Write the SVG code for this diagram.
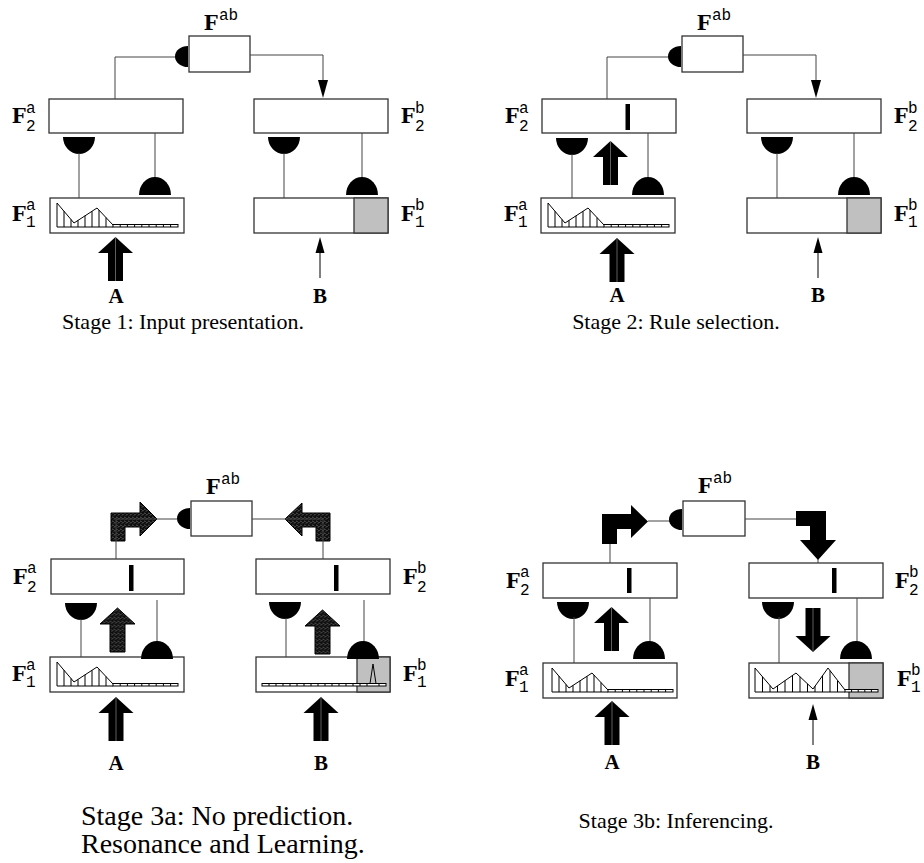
<svg xmlns="http://www.w3.org/2000/svg" width="924" height="863" viewBox="0 0 924 863">
<style>
.box{fill:#fff;stroke:#333;stroke-width:1.3}
.gray{fill:#c0c0c0;stroke:#333;stroke-width:1.3}
.ln{stroke:#444;stroke-width:1;fill:none}
.blk{fill:#000;stroke:none}
.hat{fill:url(#hatch);stroke:#000;stroke-width:1}
.F{font-family:"Liberation Serif",serif;font-weight:bold;font-size:24px}
.sup{font-family:"Liberation Mono",monospace;font-size:16px}
.lab{font-family:"Liberation Serif",serif;font-weight:bold;font-size:21px;text-anchor:middle}
.cap{font-family:"Liberation Serif",serif;font-size:22px}
.cap2{font-family:"Liberation Serif",serif;font-size:28px}
.hist{fill:none;stroke:#000;stroke-width:1}
</style>
<defs>
<pattern id="hatch" width="4" height="4" patternUnits="userSpaceOnUse">
<rect width="4" height="4" fill="#0f0f0f"/>
<path d="M0,0.5 L1.5,2 M2,3.5 L3.5,2" stroke="#b0b0b0" stroke-width="0.6"/>
</pattern>
<path id="domeDown" d="M-16,0 A16,17 0 0 0 16,0 Z"/>
<path id="domeUp" d="M-16,0 A16,18 0 0 1 16,0 Z"/>
<path id="sideCap" d="M0,-10.5 A13,10.5 0 0 0 0,10.5 Z"/>
<path id="bigUp" d="M0,0 L17.5,16 L7.5,16 L7.5,44 L-7.5,44 L-7.5,16 L-17.5,16 Z"/>
<g id="thinUp"><path d="M0,0 L4.5,16 L-4.5,16 Z" fill="#000"/><line x1="0" y1="15" x2="0" y2="41" stroke="#000" stroke-width="1"/></g>
<g id="histA" class="hist">
<path d="M7,5 L24,25 L47,10 L63,27 M7,5 V29 M14,13.2 V29 M21,21.5 V29 M28,22.4 V29 M35,17.8 V29 M42,13.3 V29 M49,12.1 V29 M56,19.6 V29 M7,29 H63"/>
<rect x="63" y="26.5" width="65" height="2.5" fill="#fff"/>
<path d="M70.2,26.5 V29 M77.4,26.5 V29 M84.6,26.5 V29 M91.8,26.5 V29 M99,26.5 V29 M106.2,26.5 V29 M113.4,26.5 V29 M120.6,26.5 V29"/>
</g>
</defs>
<rect width="924" height="863" fill="#fff"/>

<!-- ================= Stage 1 ================= -->
<g id="s1-Fab"><rect class="box" x="189" y="36" width="61" height="36"/><text class="F" x="204" y="30">F</text><text class="sup" x="219" y="20">ab</text></g>
<g id="s1-F2a"><rect class="box" x="49" y="99" width="134" height="34"/><text class="F" x="12" y="123">F</text><text class="sup" x="26" y="113">a</text><text class="sup" x="26" y="131">2</text></g>
<g id="s1-F2b"><rect class="box" x="254" y="99" width="134" height="34"/><text class="F" x="401" y="123">F</text><text class="sup" x="415" y="113">b</text><text class="sup" x="415" y="131">2</text></g>
<g id="s1-F1a"><rect class="box" x="50" y="198" width="134" height="35"/><use href="#histA" x="50" y="198"/><text class="F" x="12" y="221">F</text><text class="sup" x="26" y="210">a</text><text class="sup" x="26" y="227">1</text></g>
<g id="s1-F1b"><rect class="box" x="254" y="198" width="134" height="35"/><rect class="gray" x="354" y="198" width="34" height="35"/><text class="F" x="401" y="221">F</text><text class="sup" x="415" y="210">b</text><text class="sup" x="415" y="227">1</text></g>
<g id="s1-A"><text class="lab" x="116" y="303">A</text></g>
<g id="s1-B"><text class="lab" x="320" y="303">B</text></g>
<g id="s1-connectors">
<path class="ln" d="M115,99 V57 H176"/><use href="#sideCap" x="188" y="56.5"/>
<path class="ln" d="M250,55 H323 V82"/><path class="blk" d="M323,98 L318,80 L328,80 Z"/>
<use href="#domeDown" x="79" y="137"/><line class="ln" x1="79" y1="153" x2="79" y2="198"/>
<line class="ln" x1="155" y1="133" x2="155" y2="178"/><use href="#domeUp" x="155" y="195"/>
<use href="#domeDown" x="284" y="137"/><line class="ln" x1="284" y1="153" x2="284" y2="198"/>
<line class="ln" x1="362" y1="133" x2="362" y2="178"/><use href="#domeUp" x="362" y="195"/>
<use href="#bigUp" x="115.5" y="237"/><line x1="115.5" y1="237" x2="115.5" y2="281" stroke="#777" stroke-width="0.8"/>
<use href="#thinUp" x="320" y="237"/>
</g>
<text class="cap" x="183" y="329" text-anchor="middle">Stage 1: Input presentation.</text>

<!-- ================= Stage 2 ================= -->
<g id="s2-Fab"><rect class="box" x="682" y="36" width="61" height="36"/><text class="F" x="697" y="30">F</text><text class="sup" x="712" y="20">ab</text></g>
<g id="s2-F2a"><rect class="box" x="542" y="99" width="134" height="34"/><rect class="blk" x="625.5" y="104" width="4.5" height="26"/><text class="F" x="505" y="123">F</text><text class="sup" x="519" y="113">a</text><text class="sup" x="519" y="131">2</text></g>
<g id="s2-F2b"><rect class="box" x="747" y="99" width="134" height="34"/><text class="F" x="894" y="123">F</text><text class="sup" x="908" y="113">b</text><text class="sup" x="908" y="131">2</text></g>
<g id="s2-F1a"><rect class="box" x="541" y="198" width="134" height="35"/><use href="#histA" x="541" y="198"/><text class="F" x="504" y="221">F</text><text class="sup" x="518" y="210">a</text><text class="sup" x="518" y="227">1</text></g>
<g id="s2-F1b"><rect class="box" x="747" y="198" width="134" height="35"/><rect class="gray" x="847" y="198" width="34" height="35"/><text class="F" x="894" y="221">F</text><text class="sup" x="908" y="210">b</text><text class="sup" x="908" y="227">1</text></g>
<g id="s2-A"><text class="lab" x="617" y="302">A</text></g>
<g id="s2-B"><text class="lab" x="818" y="302">B</text></g>
<g id="s2-connectors">
<path class="ln" d="M607,99 V57 H669"/><use href="#sideCap" x="681" y="56.5"/>
<path class="ln" d="M743,55 H816 V82"/><path class="blk" d="M816,98 L811,80 L821,80 Z"/>
<use href="#domeDown" x="572" y="138"/><line class="ln" x1="572" y1="154" x2="572" y2="198"/>
<use href="#bigUp" x="610.5" y="141"/><line x1="610.5" y1="141" x2="610.5" y2="185" stroke="#777" stroke-width="0.8"/>
<line class="ln" x1="648" y1="133" x2="648" y2="178"/><use href="#domeUp" x="648" y="195"/>
<use href="#domeDown" x="777" y="137"/><line class="ln" x1="777" y1="153" x2="777" y2="198"/>
<line class="ln" x1="854" y1="133" x2="854" y2="178"/><use href="#domeUp" x="854" y="195"/>
<use href="#bigUp" x="617" y="238"/><line x1="617" y1="238" x2="617" y2="282" stroke="#777" stroke-width="0.8"/>
<use href="#thinUp" x="818" y="237"/>
</g>
<text class="cap" x="676" y="329" text-anchor="middle">Stage 2: Rule selection.</text>

<!-- ================= Stage 3a ================= -->
<g id="s3a-Fab"><rect class="box" x="191" y="501" width="61" height="35"/><text class="F" x="206" y="494">F</text><text class="sup" x="221" y="484">ab</text></g>
<g id="s3a-F2a"><rect class="box" x="51" y="559" width="133" height="35"/><rect class="blk" x="129" y="565" width="4.5" height="26"/><text class="F" x="13" y="584">F</text><text class="sup" x="27" y="573">a</text><text class="sup" x="27" y="592">2</text></g>
<g id="s3a-F2b"><rect class="box" x="256" y="559" width="134" height="35"/><rect class="blk" x="334" y="565" width="4.5" height="26"/><text class="F" x="403" y="584">F</text><text class="sup" x="417" y="573">b</text><text class="sup" x="417" y="592">2</text></g>
<g id="s3a-F1a"><rect class="box" x="50" y="657" width="134" height="35"/><use href="#histA" x="50" y="657"/><text class="F" x="12" y="681">F</text><text class="sup" x="26" y="670">a</text><text class="sup" x="26" y="687">1</text></g>
<g id="s3a-F1b"><rect class="box" x="256" y="657" width="134" height="35"/><rect class="gray" x="357" y="657" width="33" height="35"/>
<g class="hist"><rect x="262" y="683.5" width="124" height="2.5" fill="#fff"/><path d="M269,683.5 V686 M276,683.5 V686 M283,683.5 V686 M290,683.5 V686 M297,683.5 V686 M304,683.5 V686 M311,683.5 V686 M318,683.5 V686 M325,683.5 V686 M332,683.5 V686 M339,683.5 V686 M346,683.5 V686 M353,683.5 V686 M360,683.5 V686 M367,683.5 V686 M379,683.5 V686 M370,683.5 L373,664 L376,683.5"/></g>
<text class="F" x="403" y="681">F</text><text class="sup" x="417" y="670">b</text><text class="sup" x="417" y="687">1</text></g>
<g id="s3a-A"><text class="lab" x="116" y="770">A</text></g>
<g id="s3a-B"><text class="lab" x="321" y="770">B</text></g>
<g id="s3a-connectors">
<path class="hat" d="M111,541 L111,513 L140,513 L140,502 L157,519 L140,536 L140,527 L125,527 L125,541 Z"/>
<path class="ln" d="M116,559 V519 H177"/><use href="#sideCap" x="190" y="518.5"/>
<path class="hat" d="M330,541 L330,513 L302,513 L302,503 L285,519 L302,536 L302,527 L316,527 L316,541 Z"/>
<path class="ln" d="M252,519 H323 V559"/>
<use href="#domeDown" x="81" y="603"/><line class="ln" x1="81" y1="619" x2="81" y2="657"/>
<use class="hat" href="#bigUp" x="117.5" y="608"/>
<line class="ln" x1="157" y1="600" x2="157" y2="643"/><use href="#domeUp" x="157" y="659"/>
<use href="#domeDown" x="285" y="602"/><line class="ln" x1="286" y1="618" x2="286" y2="657"/>
<use class="hat" href="#bigUp" x="322.5" y="610"/>
<line class="ln" x1="364" y1="600" x2="364" y2="643"/><use href="#domeUp" x="363" y="659"/>
<use href="#bigUp" x="116" y="697"/><line x1="116" y1="697" x2="116" y2="741" stroke="#777" stroke-width="0.8"/>
<use href="#bigUp" x="321" y="697"/><line x1="321" y1="697" x2="321" y2="741" stroke="#777" stroke-width="0.8"/>
</g>
<text class="cap2" x="81" y="825">Stage 3a: No prediction.</text>
<text class="cap2" x="81" y="853">Resonance and Learning.</text>

<!-- ================= Stage 3b ================= -->
<g id="s3b-Fab"><rect class="box" x="683" y="501" width="62" height="35"/><text class="F" x="698" y="493">F</text><text class="sup" x="713" y="483">ab</text></g>
<g id="s3b-F2a"><rect class="box" x="543" y="563" width="134" height="35"/><rect class="blk" x="627" y="568" width="4.5" height="25"/><text class="F" x="506" y="588">F</text><text class="sup" x="520" y="577">a</text><text class="sup" x="520" y="595">2</text></g>
<g id="s3b-F2b"><rect class="box" x="749" y="563" width="134" height="35"/><rect class="blk" x="832" y="568" width="4.5" height="25"/><text class="F" x="895" y="588">F</text><text class="sup" x="909" y="577">b</text><text class="sup" x="909" y="595">2</text></g>
<g id="s3b-F1a"><rect class="box" x="543" y="663" width="134" height="35"/><use href="#histA" x="545" y="663"/><text class="F" x="505" y="686">F</text><text class="sup" x="519" y="675">a</text><text class="sup" x="519" y="692">1</text></g>
<g id="s3b-F1b"><rect class="box" x="749" y="663" width="134" height="35"/><rect class="gray" x="849" y="663" width="34" height="35"/>
<g class="hist" transform="translate(749,663)">
<path d="M6,5 L24,26 L47,10 L64,26 L79,5 L96,27 M6,5 V29 M13.5,13.75 V29 M21,22.5 V29 M28.5,22.9 V29 M36,17.65 V29 M43.5,12.4 V29 M51,13.8 V29 M58.5,20.8 V29 M66,23.2 V29 M73.5,12.7 V29 M81,7.7 V29 M88.5,17.9 V29 M6,29 H96"/>
<rect x="96" y="26.5" width="33" height="2.5" fill="#fff"/>
<path d="M102.6,26.5 V29 M109.2,26.5 V29 M115.8,26.5 V29 M122.4,26.5 V29"/>
</g>
<text class="F" x="897" y="686">F</text><text class="sup" x="911" y="675">b</text><text class="sup" x="911" y="692">1</text></g>
<g id="s3b-A"><text class="lab" x="612" y="769">A</text></g>
<g id="s3b-B"><text class="lab" x="813" y="769">B</text></g>
<g id="s3b-connectors">
<path class="blk" d="M602,544 L602,514 L631,514 L631,505 L648,521.5 L631,538 L631,529 L617,529 L617,544 Z"/>
<line class="ln" x1="610" y1="563" x2="610" y2="544"/>
<line class="ln" x1="648" y1="521" x2="670" y2="521"/><use href="#sideCap" x="682" y="519.5"/>
<line class="ln" x1="745" y1="519" x2="796" y2="519"/>
<path class="blk" d="M796,511 L826,511 L826,540 L836,540 L818,560 L800,540 L810,540 L810,526 L796,526 Z"/>
<line class="ln" x1="818" y1="559" x2="818" y2="563"/>
<use href="#domeDown" x="573" y="602"/><line class="ln" x1="574" y1="617" x2="574" y2="663"/>
<use href="#bigUp" x="611.5" y="607"/><line x1="611.5" y1="607" x2="611.5" y2="651" stroke="#777" stroke-width="0.8"/>
<line class="ln" x1="650" y1="598" x2="650" y2="643"/><use href="#domeUp" x="649" y="659"/>
<use href="#domeDown" x="778" y="602"/><line class="ln" x1="779" y1="617" x2="779" y2="663"/>
<use href="#bigUp" transform="translate(813,652) rotate(180)"/><line x1="813" y1="608" x2="813" y2="652" stroke="#777" stroke-width="0.8"/>
<line class="ln" x1="857" y1="598" x2="857" y2="643"/><use href="#domeUp" x="856" y="659"/>
<use href="#bigUp" x="612" y="701"/><line x1="612" y1="701" x2="612" y2="745" stroke="#777" stroke-width="0.8"/>
<use href="#thinUp" x="813" y="704"/>
</g>
<text class="cap" x="676" y="828" text-anchor="middle">Stage 3b: Inferencing.</text>
</svg>
